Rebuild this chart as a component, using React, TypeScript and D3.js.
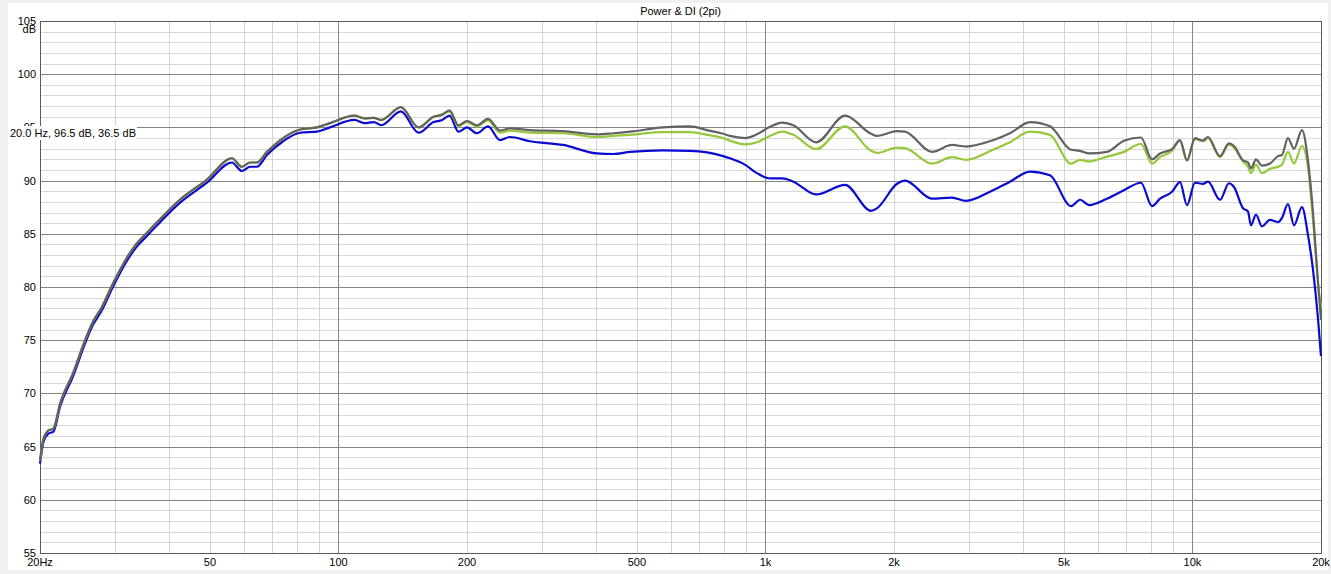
import * as d3 from "d3";
import React from "react";

// frequency points (Hz)
const freqs = [
  20, 20.4, 20.9, 21.5, 22.3, 23.9, 25.5, 26.5, 27.9, 29.7,
  32.0, 33.7, 35.6, 37.6, 42.5, 49.2, 56.3, 59.4, 62.1, 64.4,
  68.0, 74.2, 81.3, 89.1, 95.5,
  109, 115, 121, 126, 140, 154, 167, 175, 182, 191,
  200, 211, 224, 239, 252, 281, 336, 403, 440, 482,
  575, 666, 730, 796, 826, 895, 955,
  1025, 1095, 1162, 1314, 1536, 1767, 1825, 2033, 2122, 2455,
  2734, 2949, 3411, 3738, 4164, 4638, 5195, 5454, 5724, 6305,
  6912, 7575, 8039, 8395, 8955, 9350,
  9708, 10137, 10584, 10873, 11600, 12175, 12510, 13134, 13490, 13710,
  14085, 14546, 15188, 15858, 16205, 16737, 17288, 18050, 18643, 19157,
  19681, 20000,
];

// dark gray curve
const grayDb = [
  63.7, 65.8, 66.5, 66.7, 69.1, 71.9, 75.0, 76.6, 78.1, 80.4,
  82.8, 84.1, 85.1, 86.1, 88.2, 90.1, 92.1, 91.3, 91.7, 91.7,
  92.7, 94.0, 94.8, 95.0, 95.4,
  96.1, 95.85, 95.9, 95.7, 96.9, 95.0, 96.0, 96.2, 96.6, 95.2,
  95.6, 95.2, 95.8, 94.7, 94.9, 94.75, 94.65, 94.35, 94.45, 94.6,
  95.0, 95.1, 94.75, 94.4, 94.2, 94.0, 94.35,
  95.05, 95.45, 95.2, 93.6, 96.1, 94.4, 94.2, 94.65, 94.6, 92.7,
  93.35, 93.2, 93.8, 94.45, 95.5, 95.1, 92.9, 92.8, 92.55, 92.7,
  93.75, 94.05, 92.0, 92.55, 92.95, 93.8,
  91.9, 94.0, 93.75, 94.1, 92.3, 93.5, 93.25, 91.9, 91.7, 91.15,
  92.0, 91.4, 91.6, 92.3, 92.4, 94.0, 93.0, 94.75, 91.9, 87.0,
  80.4, 76.9,
];

// light green curve
const greenDb = [
  63.7, 65.8, 66.5, 66.7, 69.1, 71.9, 75.0, 76.6, 78.1, 80.4,
  82.8, 84.1, 85.1, 86.1, 88.2, 90.1, 92.1, 91.3, 91.7, 91.7,
  92.7, 94.0, 94.8, 95.0, 95.4,
  96.1, 95.85, 95.9, 95.7, 96.9, 95.0, 96.0, 96.2, 96.5, 95.1,
  95.5, 95.1, 95.65, 94.5, 94.7, 94.5, 94.45, 94.1, 94.2, 94.3,
  94.55, 94.55, 94.3, 94.0, 93.75, 93.4, 93.6,
  94.2, 94.6, 94.3, 92.95, 95.1, 92.8, 92.6, 93.1, 93.05, 91.6,
  92.2, 91.95, 92.9, 93.6, 94.6, 94.3, 91.6, 91.95, 91.8, 92.25,
  92.7, 93.45, 91.6, 92.2, 92.8, 93.75,
  91.9, 93.9, 93.7, 94.0, 92.2, 93.4, 93.1, 91.8, 91.3, 90.7,
  91.5, 90.7, 91.1, 91.3, 91.5, 92.7, 91.6, 93.25, 91.2, 86.3,
  80.4, 78.0,
];

// blue curve
const blueDb = [
  63.4, 65.5, 66.2, 66.4, 68.8, 71.6, 74.7, 76.3, 77.8, 80.1,
  82.5, 83.8, 84.8, 85.8, 87.9, 89.8, 91.7, 90.9, 91.3, 91.3,
  92.4, 93.7, 94.5, 94.6, 95.0,
  95.7, 95.4, 95.5, 95.2, 96.5, 94.5, 95.5, 95.7, 96.1, 94.6,
  95.0, 94.45, 95.1, 93.8, 94.1, 93.7, 93.35, 92.55, 92.5, 92.7,
  92.85, 92.8, 92.65, 92.3, 92.1, 91.5, 90.7,
  90.2, 90.2, 89.9, 88.7, 89.6, 87.15, 87.4, 89.7, 90.0, 88.3,
  88.4, 88.1, 89.1, 89.9, 90.85, 90.5, 87.6, 88.2, 87.7, 88.3,
  89.1, 89.8, 87.6, 88.3, 88.95, 89.85,
  87.7, 89.8, 89.7, 89.9, 88.2, 89.75, 89.4, 87.4, 87.1, 85.8,
  86.8, 85.7, 86.3, 86.1, 86.5, 87.8, 85.8, 87.5, 84.9, 81.6,
  77.0, 73.5,
];

const xTickValues = [20, 50, 100, 200, 500, 1000, 2000, 5000, 10000, 20000];
const xTickLabels = ["20Hz", "50", "100", "200", "500", "1k", "2k", "5k", "10k", "20k"];
const yTickValues = [55, 60, 65, 70, 75, 80, 85, 90, 95, 100, 105];
const xMajorGrid = [100, 1000, 10000];
const xMinorGrid = [
  30, 40, 50, 60, 70, 80, 90,
  200, 300, 400, 500, 600, 700, 800, 900,
  2000, 3000, 4000, 5000, 6000, 7000, 8000, 9000,
];

const title = "Power & DI (2pi)";
const cursorText = "20.0 Hz, 96.5 dB, 36.5 dB";

const W = 1331;
const H = 574;
const left = 40;
const right = 1321;
const top = 21;
const bottom = 553;
const font = "'Liberation Sans', Arial, sans-serif";

export default function App() {
  const x = d3.scaleLog().domain([20, 20000]).range([left, right]);
  const y = d3.scaleLinear().domain([55, 105]).range([bottom, top]);

  const minorY = d3.range(55, 106, 1).filter((v) => v % 5 !== 0);

  const line = d3
    .line<number>()
    .x((_, i) => x(freqs[i]))
    .y((d) => y(d))
    .curve(d3.curveMonotoneX);

  return (
    <svg
      width={W}
      height={H}
      style={{ position: "absolute", left: 0, top: 0 }}
      fontFamily={font}
    >
      <rect x={0} y={0} width={W} height={H} fill="#f0f0f0" />
      <rect x={8} y={3} width={1320} height={567} fill="#ffffff" />

      <text x={(left + right) / 2} y={15} fontSize={11} textAnchor="middle" fill="#000">
        {title}
      </text>

      {/* minor grid */}
      {minorY.map((v) => (
        <line key={"my" + v} x1={left} x2={right} y1={Math.round(y(v)) + 0.5} y2={Math.round(y(v)) + 0.5} stroke="#d9d9d9" />
      ))}
      {xMinorGrid.map((f) => (
        <line key={"mx" + f} x1={Math.round(x(f)) + 0.5} x2={Math.round(x(f)) + 0.5} y1={top} y2={bottom} stroke="#d4d4d4" />
      ))}
      {/* major grid */}
      {yTickValues.map((v) => (
        <line key={"Y" + v} x1={left} x2={right} y1={Math.round(y(v)) + 0.5} y2={Math.round(y(v)) + 0.5} stroke="#858585" />
      ))}
      {xMajorGrid.map((f) => (
        <line key={"X" + f} x1={Math.round(x(f)) + 0.5} x2={Math.round(x(f)) + 0.5} y1={top} y2={bottom} stroke="#858585" />
      ))}
      <rect x={left + 0.5} y={top + 0.5} width={right - left} height={bottom - top} fill="none" stroke="#5a5a5a" />

      {/* curves */}
      <path d={line(blueDb) || undefined} fill="none" stroke="#0a0ad2" strokeWidth={2.2} strokeLinejoin="round" />
      <path d={line(greenDb) || undefined} fill="none" stroke="#96c83c" strokeWidth={2.2} strokeLinejoin="round" />
      <path d={line(grayDb) || undefined} fill="none" stroke="#626262" strokeWidth={2.2} strokeLinejoin="round" />

      {/* y labels */}
      {yTickValues.map((v) => (
        <text key={"yl" + v} x={36} y={y(v) + 4} fontSize={11} textAnchor="end" fill="#000">
          {v}
        </text>
      ))}
      <text x={36} y={33} fontSize={11} textAnchor="end" fill="#000">dB</text>

      {/* x labels */}
      {xTickValues.map((f, i) => (
        <text key={"xl" + f} x={x(f)} y={566} fontSize={11} textAnchor="middle" fill="#000">
          {xTickLabels[i]}
        </text>
      ))}

      {/* cursor readout */}
      <rect x={8} y={126} width={129} height={14} fill="#ffffff" />
      <text x={10} y={137} fontSize={11} fill="#000">{cursorText}</text>
    </svg>
  );
}
